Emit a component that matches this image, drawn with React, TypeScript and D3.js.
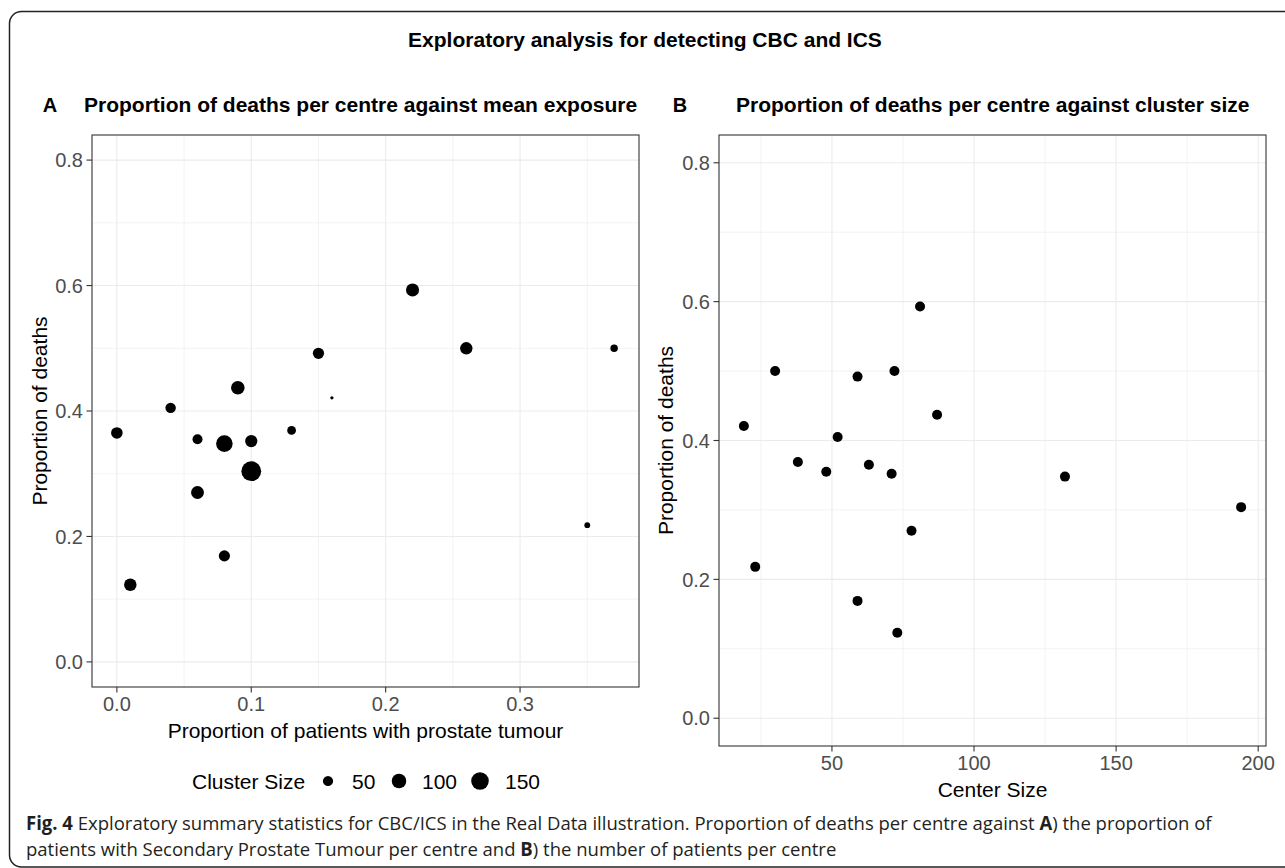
import { useLayoutEffect, useRef, useState } from "react";
import * as d3 from "d3";

// proportion of patients with prostate tumour per centre (panel A, x)
const exposure = [0.0, 0.04, 0.06, 0.08, 0.1, 0.1, 0.06, 0.09, 0.13, 0.16, 0.15, 0.22, 0.26, 0.37, 0.01, 0.08, 0.35];
// proportion of deaths per centre (y in both panels)
const deaths = [0.365, 0.405, 0.355, 0.348, 0.352, 0.304, 0.27, 0.437, 0.369, 0.421, 0.492, 0.593, 0.5, 0.5, 0.123, 0.169, 0.218];
// number of patients per centre (panel B, x, and point size in A)
const centreSize = [63, 52, 48, 132, 71, 194, 78, 87, 38, 19, 59, 81, 72, 30, 73, 59, 23];

const xTicksA = [0, 0.1, 0.2, 0.3];
const xTicksB = [50, 100, 150, 200];
const yTicks = [0, 0.2, 0.4, 0.6, 0.8];
const sizeBreaks = [50, 100, 150];

const SANS = "'Liberation Sans', Arial, sans-serif";
const CAPTION = "'Open Sans', 'Noto Sans', sans-serif";

const expand = (ext: [number, number]): [number, number] => {
  const d = (ext[1] - ext[0]) * 0.05;
  return [ext[0] - d, ext[1] + d];
};

const minorOf = (ticks: number[], domain: number[]) => {
  const step = ticks[1] - ticks[0];
  const out: number[] = [];
  for (let v = ticks[0] - step / 2; v <= ticks[ticks.length - 1] + step / 2 + 1e-9; v += step) {
    if (v >= domain[0] && v <= domain[1]) out.push(v);
  }
  return out;
};

const fmt1 = d3.format(".1f");

// ggplot scale_size: area rescaled into size range [1, 6]
const sizeExt = d3.extent(centreSize) as [number, number];
const sizeScale = d3.scaleLinear().domain([0, 1]).range([1, 6]);
const radius = (v: number) => sizeScale(Math.sqrt((v - sizeExt[0]) / (sizeExt[1] - sizeExt[0]))) * 1.65;

function Panel({ xs, ys, xVals, radii, xTicks, xFmt, xTitle, yTitleX }: any) {
  const [x0, x1] = xs.range();
  const [y0, y1] = ys.range(); // y0 bottom, y1 top
  const xMinor = minorOf(xTicks, xs.domain());
  const yMinor = minorOf(yTicks, ys.domain());
  return (
    <g>
      {xMinor.map((v: number) => (
        <line key={"xm" + v} x1={xs(v)} x2={xs(v)} y1={y1} y2={y0} stroke="#ebebeb" strokeWidth={0.6} />
      ))}
      {yMinor.map((v: number) => (
        <line key={"ym" + v} x1={x0} x2={x1} y1={ys(v)} y2={ys(v)} stroke="#ebebeb" strokeWidth={0.6} />
      ))}
      {xTicks.map((v: number) => (
        <line key={"xg" + v} x1={xs(v)} x2={xs(v)} y1={y1} y2={y0} stroke="#ebebeb" strokeWidth={1.1} />
      ))}
      {yTicks.map((v: number) => (
        <line key={"yg" + v} x1={x0} x2={x1} y1={ys(v)} y2={ys(v)} stroke="#ebebeb" strokeWidth={1.1} />
      ))}
      {xVals.map((v: number, i: number) => (
        <circle key={i} cx={xs(v)} cy={ys(deaths[i])} r={radii[i]} fill="#000" />
      ))}
      <rect x={x0} y={y1} width={x1 - x0} height={y0 - y1} fill="none" stroke="#333" strokeWidth={1.1} />
      {xTicks.map((v: number) => (
        <g key={"xt" + v}>
          <line x1={xs(v)} x2={xs(v)} y1={y0} y2={y0 + 5.5} stroke="#333" strokeWidth={1.1} />
          <text x={xs(v)} y={y0 + 24} textAnchor="middle" fontSize={20} fill="#4d4d4d" fontFamily={SANS}>
            {xFmt(v)}
          </text>
        </g>
      ))}
      {yTicks.map((v: number) => (
        <g key={"yt" + v}>
          <line x1={x0 - 5.5} x2={x0} y1={ys(v)} y2={ys(v)} stroke="#333" strokeWidth={1.1} />
          <text x={x0 - 9} y={ys(v) + 7.2} textAnchor="end" fontSize={20} fill="#4d4d4d" fontFamily={SANS}>
            {fmt1(v)}
          </text>
        </g>
      ))}
      <text x={(x0 + x1) / 2} y={y0 + 51} textAnchor="middle" fontSize={21} fill="#000" fontFamily={SANS}>
        {xTitle}
      </text>
      <text
        transform={`translate(${yTitleX},${(y0 + y1) / 2}) rotate(-90)`}
        textAnchor="middle"
        fontSize={21}
        fill="#000"
        fontFamily={SANS}
      >
        Proportion of deaths
      </text>
    </g>
  );
}

export default function App() {
  const xsA = d3.scaleLinear().domain(expand(d3.extent(exposure) as [number, number])).range([92, 639]);
  const ysA = d3.scaleLinear().domain(expand([0, 0.8])).range([687, 135]);
  const xsB = d3.scaleLinear().domain(expand(d3.extent(centreSize) as [number, number])).range([719, 1266]);
  const ysB = d3.scaleLinear().domain(expand([0, 0.8])).range([746, 135]);

  const radiiA = centreSize.map(radius);
  const radiiB = centreSize.map(() => 5);

  // caption is squeezed horizontally to the width the reference uses
  const line1 = useRef<SVGTextElement>(null);
  const [sx, setSx] = useState(1);
  useLayoutEffect(() => {
    if (line1.current) {
      const n1 = line1.current.getComputedTextLength();
      if (n1 > 0) setSx((1212 - 26) / n1);
    }
  }, []);

  const legendX = [328, 399, 480];
  const legendLabelX = [352, 422, 505];

  return (
    <svg width={1285} height={868} style={{ position: "absolute", left: 0, top: 0, background: "#fff" }}>
      <rect x={0} y={0} width={1285} height={868} fill="#fff" />
      <rect x={9.5} y={11.5} width={1310} height={855.5} rx={12} fill="none" stroke="#222" strokeWidth={1.5} />

      <text x={645} y={47} textAnchor="middle" fontSize={21} fontWeight="bold" fontFamily={SANS}>
        Exploratory analysis for detecting CBC and ICS
      </text>

      <text x={50} y={112} textAnchor="middle" fontSize={20} fontWeight="bold" fontFamily={SANS}>A</text>
      <text x={84} y={112} fontSize={21} fontWeight="bold" fontFamily={SANS}>
        Proportion of deaths per centre against mean exposure
      </text>
      <text x={680} y={112} textAnchor="middle" fontSize={20} fontWeight="bold" fontFamily={SANS}>B</text>
      <text x={736} y={112} fontSize={21} fontWeight="bold" fontFamily={SANS}>
        Proportion of deaths per centre against cluster size
      </text>

      <Panel
        xs={xsA}
        ys={ysA}
        xVals={exposure}
        radii={radiiA}
        xTicks={xTicksA}
        xFmt={fmt1}
        xTitle="Proportion of patients with prostate tumour"
        yTitleX={46.5}
      />
      <Panel
        xs={xsB}
        ys={ysB}
        xVals={centreSize}
        radii={radiiB}
        xTicks={xTicksB}
        xFmt={d3.format("d")}
        xTitle="Center Size"
        yTitleX={672.5}
      />

      <g fontFamily={SANS} fontSize={21} fill="#000">
        <text x={192} y={788.5}>Cluster Size</text>
        {sizeBreaks.map((b, i) => (
          <g key={b}>
            <circle cx={legendX[i]} cy={781} r={radius(b)} fill="#000" />
            <text x={legendLabelX[i]} y={788.5}>{b}</text>
          </g>
        ))}
      </g>

      <g fontFamily={CAPTION} fontSize={19} fill="#231f20" transform={`translate(26,0) scale(${sx},1)`}>
        <text ref={line1} x={0} y={830}>
          <tspan fontWeight="bold">Fig. 4</tspan> Exploratory summary statistics for CBC/ICS in the Real Data
          illustration. Proportion of deaths per centre against <tspan fontWeight="bold">A</tspan>) the proportion of
        </text>
        <text x={0} y={856}>
          patients with Secondary Prostate Tumour per centre and <tspan fontWeight="bold">B</tspan>) the number of
          patients per centre
        </text>
      </g>
    </svg>
  );
}
